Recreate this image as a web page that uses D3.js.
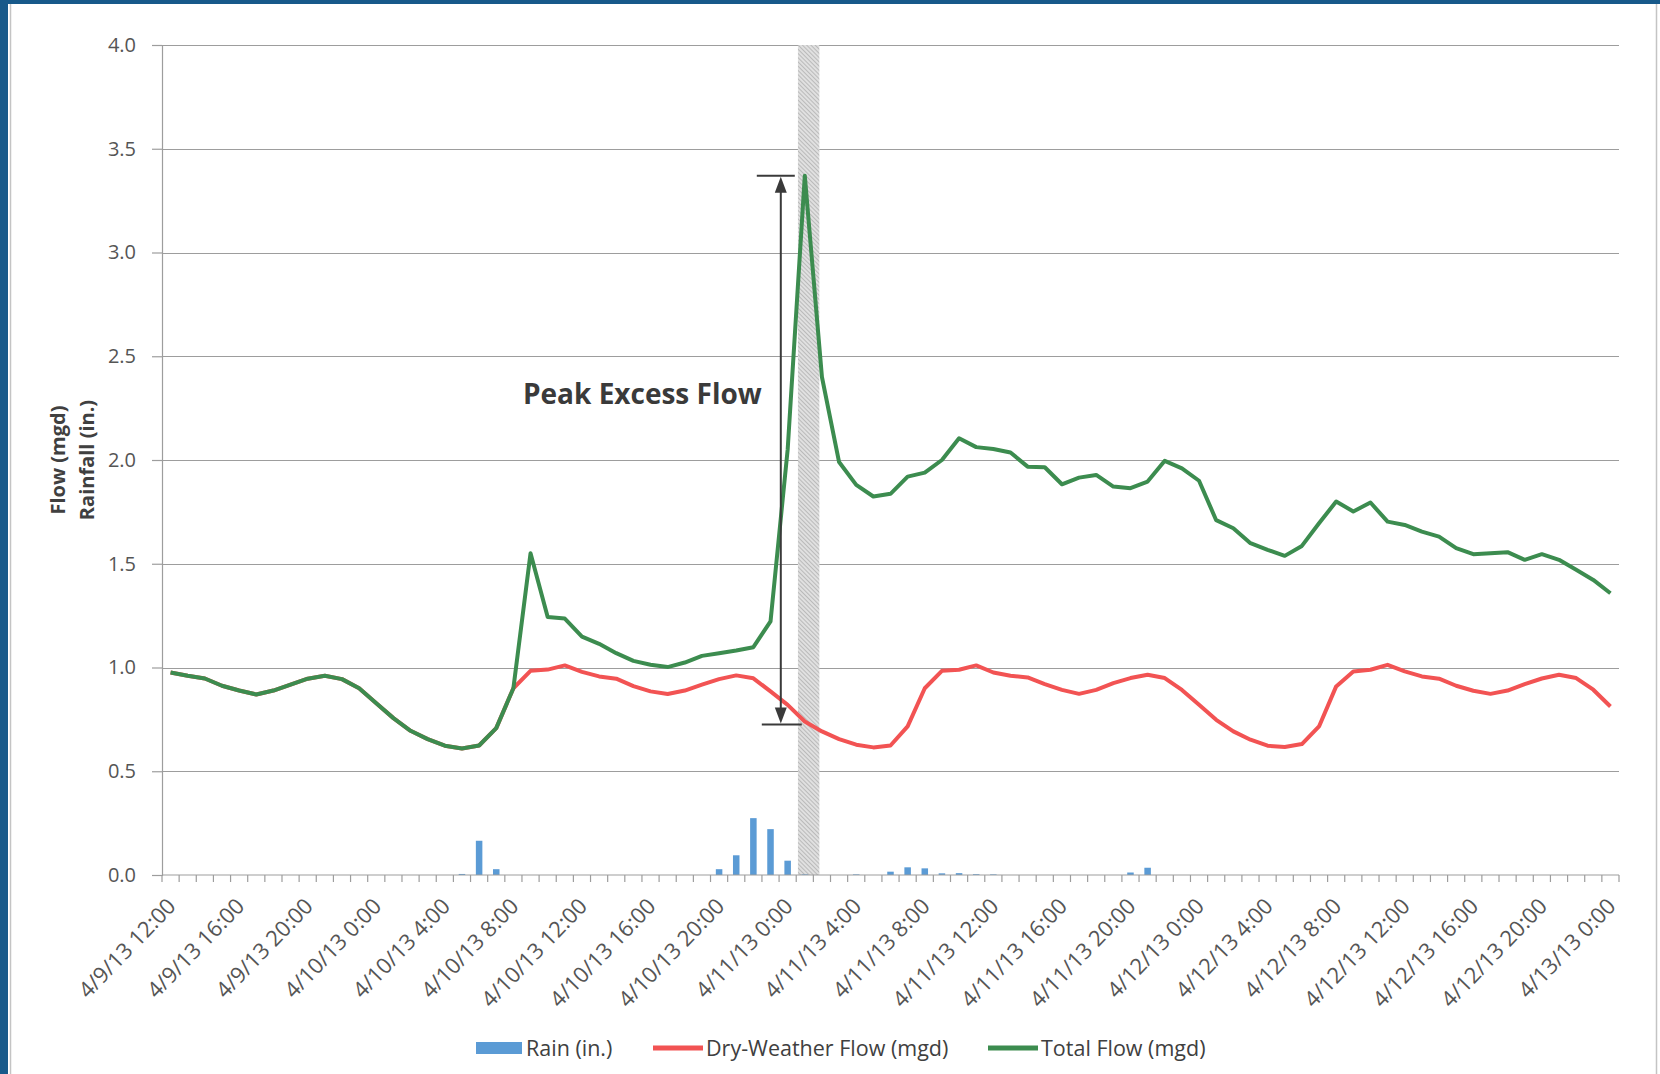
<!DOCTYPE html>
<html>
<head>
<meta charset="utf-8">
<title>Peak Excess Flow</title>
<script src="https://d3js.org/d3.v7.min.js"></script>
<style>
  body { margin: 0; background: #fff; }
  svg text { font-family: "Open Sans", sans-serif; }
</style>
</head>
<body>
<script>
var width = 1660,
    height = 1074;

// hourly categories 4/9/13 12:00 .. 4/13/13 0:00
var hours = d3.timeHour.range(new Date(2013, 3, 9, 12), new Date(2013, 3, 13, 1));

var tickLabels = ["4/9/13 12:00", "4/9/13 16:00", "4/9/13 20:00", "4/10/13 0:00", "4/10/13 4:00",
  "4/10/13 8:00", "4/10/13 12:00", "4/10/13 16:00", "4/10/13 20:00", "4/11/13 0:00", "4/11/13 4:00",
  "4/11/13 8:00", "4/11/13 12:00", "4/11/13 16:00", "4/11/13 20:00", "4/12/13 0:00", "4/12/13 4:00",
  "4/12/13 8:00", "4/12/13 12:00", "4/12/13 16:00", "4/12/13 20:00", "4/13/13 0:00"];

var yTicks = [0, 0.5, 1, 1.5, 2, 2.5, 3, 3.5, 4];

var rain = [
  0, 0, 0, 0, 0, 0, 0, 0, 0, 0, 0, 0,
  0, 0, 0, 0, 0, 0.005, 0.165, 0.028, 0, 0, 0, 0,
  0, 0, 0, 0, 0, 0, 0, 0, 0.028, 0.095, 0.274, 0.221,
  0.069, 0.003, 0, 0, 0.003, 0, 0.016, 0.037, 0.032, 0.008, 0.009, 0.004,
  0.003, 0, 0, 0, 0, 0, 0, 0, 0.012, 0.035, 0, 0,
  0, 0, 0, 0, 0, 0, 0, 0, 0, 0, 0, 0,
  0, 0, 0, 0, 0, 0, 0, 0, 0, 0, 0, 0,
  0];

var dryFlow = [
  0.976, 0.960, 0.947, 0.912, 0.889, 0.870, 0.889, 0.918, 0.946, 0.960, 0.944, 0.900,
  0.828, 0.756, 0.695, 0.655, 0.623, 0.610, 0.624, 0.708, 0.900, 0.984, 0.990, 1.010,
  0.979, 0.957, 0.946, 0.910, 0.885, 0.872, 0.889, 0.917, 0.944, 0.962, 0.948, 0.885,
  0.820, 0.740, 0.692, 0.655, 0.628, 0.615, 0.624, 0.716, 0.900, 0.984, 0.989, 1.010,
  0.976, 0.960, 0.952, 0.920, 0.892, 0.873, 0.892, 0.925, 0.949, 0.965, 0.949, 0.892,
  0.820, 0.748, 0.692, 0.652, 0.623, 0.617, 0.631, 0.716, 0.909, 0.981, 0.989, 1.013,
  0.981, 0.957, 0.946, 0.912, 0.888, 0.873, 0.889, 0.920, 0.947, 0.965, 0.949, 0.893,
  0.812];

var totalFlow = [
  0.976, 0.960, 0.947, 0.912, 0.889, 0.870, 0.889, 0.918, 0.946, 0.960, 0.944, 0.900,
  0.828, 0.756, 0.695, 0.655, 0.623, 0.610, 0.624, 0.708, 0.900, 1.551, 1.243, 1.236,
  1.149, 1.114, 1.069, 1.032, 1.013, 1.002, 1.024, 1.056, 1.069, 1.082, 1.098, 1.222,
  2.050, 3.370, 2.400, 1.990, 1.880, 1.824, 1.837, 1.920, 1.939, 2.000, 2.105, 2.062,
  2.053, 2.036, 1.968, 1.965, 1.883, 1.915, 1.928, 1.872, 1.864, 1.896, 1.996, 1.960,
  1.900, 1.710, 1.671, 1.599, 1.567, 1.538, 1.586, 1.695, 1.800, 1.752, 1.795, 1.703,
  1.687, 1.655, 1.631, 1.575, 1.546, 1.551, 1.556, 1.519, 1.546, 1.519, 1.471, 1.422,
  1.358];

var legendItems = ["Rain (in.)", "Dry-Weather Flow (mgd)", "Total Flow (mgd)"];

var colors = { rain: "#5b9bd5", dry: "#f25353", total: "#3c8c4f" };

var margin = { left: 162, right: 41, top: 45, bottom: 199 };

var svg = d3.select("body").append("svg")
  .attr("width", width)
  .attr("height", height);

// page frame
svg.append("rect").attr("x", 0).attr("y", 0).attr("width", width).attr("height", height).attr("fill", "#fff");
svg.append("rect").attr("x", 0).attr("y", 0).attr("width", 8).attr("height", height).attr("fill", "#17598a");
svg.append("rect").attr("x", 0).attr("y", 0).attr("width", width).attr("height", 4).attr("fill", "#17598a");
svg.append("line").attr("x1", 10.5).attr("x2", 10.5).attr("y1", 4).attr("y2", height).attr("stroke", "#c4c4c4").attr("stroke-width", 1.5);
svg.append("line").attr("x1", 1656.5).attr("x2", 1656.5).attr("y1", 4).attr("y2", height).attr("stroke", "#c4c4c4").attr("stroke-width", 1.5);

var x = d3.scaleBand()
  .domain(d3.range(hours.length))
  .range([margin.left, width - margin.right])
  .padding(0);

var y = d3.scaleLinear()
  .domain([0, 4])
  .range([height - margin.bottom, margin.top]);

// position of a (possibly fractional) category index, at category centre
function xAt(i) {
  return x.range()[0] + (i + 0.5) * x.step();
}

var defs = svg.append("defs");
var hatch = defs.append("pattern")
  .attr("id", "hatch")
  .attr("patternUnits", "userSpaceOnUse")
  .attr("width", 3).attr("height", 3)
  .attr("patternTransform", "rotate(45)");
hatch.append("rect").attr("width", 3).attr("height", 3).attr("fill", "#e0e0e0");
hatch.append("line").attr("x1", 0).attr("x2", 3).attr("y1", 1.5).attr("y2", 1.5)
  .attr("stroke", "#bababa").attr("stroke-width", 1);

// gridlines
svg.append("g")
  .selectAll("line")
  .data(yTicks.filter(function(d) { return d > 0; }))
  .enter()
  .append("line")
  .attr("x1", margin.left)
  .attr("x2", width - margin.right)
  .attr("y1", function(d) { return Math.round(y(d)) + 0.5; })
  .attr("y2", function(d) { return Math.round(y(d)) + 0.5; })
  .attr("stroke", "#9d9d9d")
  .attr("stroke-width", 1.2);

// y axis
var yAxis = svg.append("g")
  .attr("transform", "translate(" + margin.left + ",0)")
  .call(d3.axisLeft(y).tickValues(yTicks).tickFormat(d3.format(".1f")).tickSize(10).tickPadding(16));
yAxis.select(".domain").attr("stroke", "#9d9d9d").attr("stroke-width", 1.2);
yAxis.selectAll(".tick line").attr("stroke", "#9d9d9d").attr("stroke-width", 1.2);
yAxis.selectAll(".tick text")
  .attr("fill", "#555")
  .style("font-size", "20px");

// peak time band
var peakIdx = d3.maxIndex(totalFlow);
svg.append("rect")
  .attr("x", xAt(peakIdx - 0.4))
  .attr("y", y(4))
  .attr("width", xAt(peakIdx + 0.85) - xAt(peakIdx - 0.4))
  .attr("height", y(0) - y(4))
  .attr("fill", "url(#hatch)");

// rain bars
var barW = x.bandwidth() * 0.38;
svg.append("g")
  .selectAll("rect")
  .data(rain)
  .enter()
  .append("rect")
  .attr("x", function(d, i) { return x(i) + (x.bandwidth() - barW) / 2; })
  .attr("y", function(d) { return y(d); })
  .attr("width", barW)
  .attr("height", function(d) { return y(0) - y(d); })
  .attr("fill", colors.rain);

// x axis
var xAxis = svg.append("g")
  .attr("transform", "translate(0," + y(0) + ")");
xAxis.append("line")
  .attr("x1", margin.left).attr("x2", width - margin.right)
  .attr("stroke", "#9d9d9d").attr("stroke-width", 1.2);
xAxis.selectAll(".tk")
  .data(d3.range(hours.length + 1))
  .enter()
  .append("line")
  .attr("x1", function(i) { return x.range()[0] + i * x.step(); })
  .attr("x2", function(i) { return x.range()[0] + i * x.step(); })
  .attr("y1", 0).attr("y2", 7)
  .attr("stroke", "#9d9d9d").attr("stroke-width", 1.2);
xAxis.selectAll(".lbl")
  .data(tickLabels)
  .enter()
  .append("text")
  .attr("transform", function(d, k) {
    return "translate(" + (xAt(k * 4) + 1) + ",27) rotate(-46)";
  })
  .attr("text-anchor", "end")
  .attr("dy", "0.35em")
  .attr("fill", "#555")
  .style("font-size", "22px")
  .text(function(d) { return d; });

// flow lines
var line = d3.line()
  .x(function(d, i) { return xAt(i); })
  .y(function(d) { return y(d); });

svg.append("path")
  .datum(dryFlow)
  .attr("d", line)
  .attr("fill", "none")
  .attr("stroke", colors.dry)
  .attr("stroke-width", 4)
  .attr("stroke-linejoin", "round");

svg.append("path")
  .datum(totalFlow)
  .attr("d", line)
  .attr("fill", "none")
  .attr("stroke", colors.total)
  .attr("stroke-width", 4)
  .attr("stroke-linejoin", "round");

// peak excess flow annotation
var ax = xAt(peakIdx - 1.4);
var yTop = y(totalFlow[peakIdx]),
    yBot = y(0.725);
var ann = svg.append("g").attr("stroke", "#3a3a3a").attr("fill", "#3a3a3a");
ann.append("line").attr("x1", ax - 24).attr("x2", ax + 14).attr("y1", yTop).attr("y2", yTop).attr("stroke-width", 2);
ann.append("line").attr("x1", ax - 19).attr("x2", ax + 21).attr("y1", yBot).attr("y2", yBot).attr("stroke-width", 2);
ann.append("line").attr("x1", ax).attr("x2", ax).attr("y1", yTop + 12).attr("y2", yBot - 12).attr("stroke-width", 2);
ann.append("path")
  .attr("stroke", "none")
  .attr("d", "M" + ax + "," + (yTop + 1) + "l-6,16h12z");
ann.append("path")
  .attr("stroke", "none")
  .attr("d", "M" + ax + "," + (yBot - 1) + "l-6,-16h12z");

svg.append("text")
  .attr("x", ax - 19)
  .attr("y", y(2.3) + 6)
  .attr("text-anchor", "end")
  .attr("fill", "#3a3a3a")
  .style("font-size", "28px")
  .style("font-weight", "700")
  .text("Peak Excess Flow");

// y axis title
var yTitle = svg.append("text")
  .attr("transform", "translate(65,460) rotate(-90)")
  .attr("text-anchor", "middle")
  .attr("fill", "#404040")
  .style("font-size", "20px")
  .style("font-weight", "700");
yTitle.append("tspan").attr("x", 0).attr("dy", 0).text("Flow (mgd)");
yTitle.append("tspan").attr("x", 0).attr("dy", "1.45em").text("Rainfall (in.)");

// legend
var legend = svg.append("g").attr("transform", "translate(0,1048)");
var legendX = [476, 653, 988];
legendItems.forEach(function(name, k) {
  var g = legend.append("g").attr("transform", "translate(" + legendX[k] + ",0)");
  if (k === 0) {
    g.append("rect").attr("x", 0).attr("y", -6).attr("width", 46).attr("height", 12).attr("fill", colors.rain);
  } else {
    g.append("line").attr("x1", 0).attr("x2", 50).attr("y1", 0).attr("y2", 0)
      .attr("stroke", k === 1 ? colors.dry : colors.total).attr("stroke-width", 5);
  }
  g.append("text")
    .attr("x", k === 0 ? 50 : 53)
    .attr("dy", "0.35em")
    .attr("fill", "#404040")
    .style("font-size", "21.5px")
    .text(name);
});
</script>
</body>
</html>
